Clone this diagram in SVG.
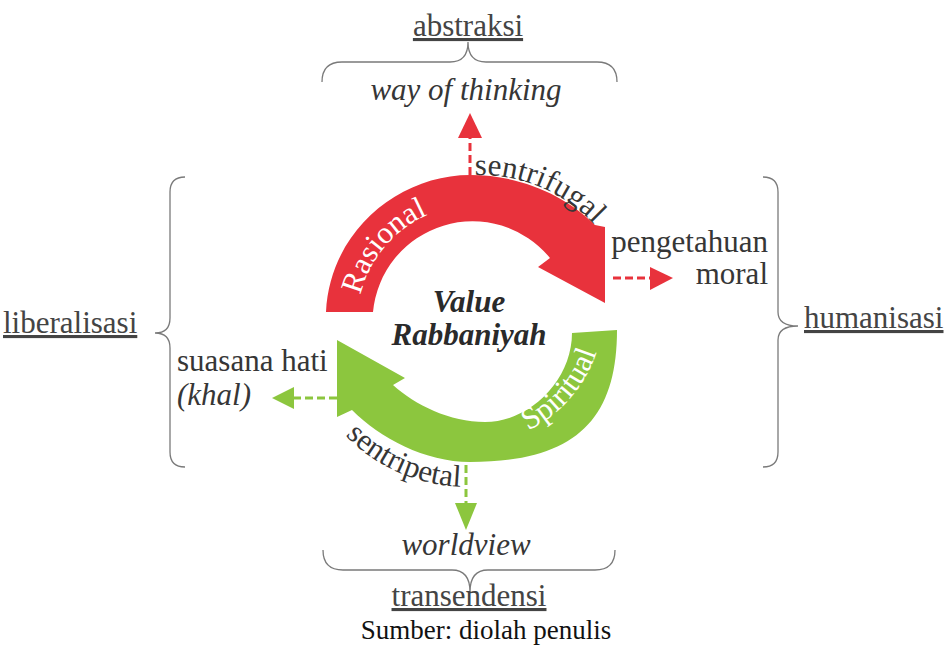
<svg xmlns="http://www.w3.org/2000/svg" width="945" height="649" viewBox="0 0 945 649">
<style>
.t{font-family:"Liberation Serif","Times New Roman",serif;font-size:31px;fill:#363636}
.u{text-decoration:underline;fill:#444}
.i{font-style:italic}
.w{fill:#ffffff}
.c{font-weight:bold;font-style:italic;fill:#2a2a2a}
.s{font-size:27px;fill:#111}
.br{fill:none;stroke:#7a7a7a;stroke-width:1.3}
.dr{stroke:#e8323c;stroke-width:3;stroke-dasharray:8 4;fill:none}
.dg{stroke:#8cc63e;stroke-width:3;stroke-dasharray:8 4;fill:none}
</style>
<defs>
<path id="pRas" d="M358.8,302.5 A118,118 0 0 1 434.6,212.1"/>
<path id="pSpi" d="M515.5,436 A133,133 0 0 0 600.1,338.7"/>
<path id="pCf" d="M452.9,177.4 A156,156 0 0 1 607.8,241.5"/>
<path id="pCp" d="M336.2,425.6 A172,172 0 0 0 474,486.9"/>
</defs>
<g id="red-arrow">
<path d="M326,312 C330,230 400,175 470,175 C520,175 565,195 595,225 L605,227 L605,303 L538,267 L550,258 A100,100 0 0 0 373,312 Z" fill="#e8323c"/>
<text class="t w"><textPath href="#pRas" startOffset="50%" text-anchor="middle">Rasional</textPath></text>
</g>
<g id="green-arrow">
<path d="M617,330 C617,420 575,462 470,462 C425,462 380,438 352,410 L337,417 L337,340 L405,378 L393,385 C415,405 450,422 485,422 C530,422 572,380 572,333 Z" fill="#8cc63e"/>
<text class="t w"><textPath href="#pSpi" startOffset="50%" text-anchor="middle">Spiritual</textPath></text>
</g>
<g id="center-label">
<text class="t c" x="469" y="312" text-anchor="middle">Value</text>
<text class="t c" x="469" y="345" text-anchor="middle">Rabbaniyah</text>
</g>
<g id="connectors">
<line class="dr" x1="470" y1="175" x2="470" y2="138"/>
<polygon points="470,113 482,138 458,138" fill="#e8323c"/>
<line class="dr" x1="613" y1="278" x2="650" y2="278"/>
<polygon points="650,267 673,278 650,290" fill="#e8323c"/>
<line class="dg" x1="337" y1="398" x2="294" y2="398"/>
<polygon points="294,387 272,398 294,409" fill="#8cc63e"/>
<line class="dg" x1="466" y1="465" x2="466" y2="503"/>
<polygon points="455,503 477,503 466,530" fill="#8cc63e"/>
</g>
<g id="flow-labels">
<text class="t"><textPath href="#pCf" startOffset="50%" text-anchor="middle">sentrifugal</textPath></text>
<text class="t"><textPath href="#pCp" startOffset="50%" text-anchor="middle">sentripetal</textPath></text>
</g>
<g id="top">
<text class="t u" x="468" y="36" text-anchor="middle">abstraksi</text>
<path class="br" d="M322,82 Q322,62 342,62 L450,62 Q468,62 468,42 Q468,62 486,62 L597,62 Q617,62 617,82"/>
<text class="t i" x="466" y="100" text-anchor="middle">way of thinking</text>
</g>
<g id="right">
<text class="t" x="768" y="252" text-anchor="end">pengetahuan</text>
<text class="t" x="768" y="284" text-anchor="end">moral</text>
<path class="br" d="M763,177 Q778,177 778,192 L778,312 Q778,326 798,326 Q778,326 778,340 L778,452 Q778,467 763,467"/>
<text class="t u" x="804" y="328">humanisasi</text>
</g>
<g id="left">
<text class="t u" x="3" y="333">liberalisasi</text>
<path class="br" d="M185,177 Q170,177 170,192 L170,318 Q170,333 155,333 Q170,333 170,348 L170,452 Q170,467 185,467"/>
<text class="t" x="177" y="371">suasana hati</text>
<text class="t i" x="177" y="405">(khal)</text>
</g>
<g id="bottom">
<text class="t i" x="466" y="555" text-anchor="middle">worldview</text>
<path class="br" d="M323,550 Q323,570 343,570 L452,570 Q470,570 470,592 Q470,570 488,570 L595,570 Q615,570 615,550"/>
<text class="t u" x="469" y="606" text-anchor="middle">transendensi</text>
<text class="t s" x="486" y="639" text-anchor="middle">Sumber: diolah penulis</text>
</g>
</svg>
